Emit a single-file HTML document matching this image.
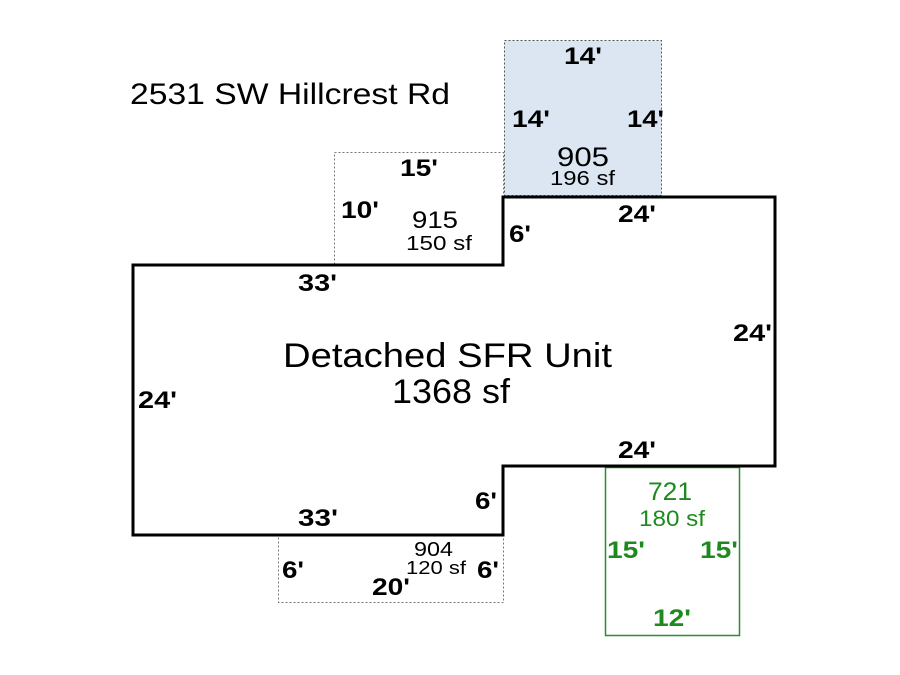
<!DOCTYPE html>
<html><head><style>body{margin:0;background:#fff}svg{display:block}text{font-family:"Liberation Sans",Arial,sans-serif}</style></head>
<body>
<svg width="900" height="675" viewBox="0 0 900 675" xmlns="http://www.w3.org/2000/svg">
<rect x="504.5" y="40.5" width="157" height="155" fill="#dce6f2" stroke="#555" stroke-dasharray="2,2"/>
<rect x="334.5" y="152.5" width="169" height="113" fill="none" stroke="#777" stroke-dasharray="2,2"/>
<rect x="278.5" y="535.5" width="225" height="67" fill="none" stroke="#777" stroke-dasharray="2,2"/>
<rect x="605.5" y="467.5" width="134" height="168" fill="none" stroke="#2e8b2e" stroke-width="1.5"/>
<path d="M133,265 H503 V197 H775 V466 H503 V535 H133 Z" fill="none" stroke="#000" stroke-width="3"/>
<g lengthAdjust="spacingAndGlyphs">
<text x="130" y="104" font-size="30" textLength="320" lengthAdjust="spacingAndGlyphs">2531 SW Hillcrest Rd</text>
<g font-weight="bold" font-size="24">
<text x="564" y="64" textLength="38" lengthAdjust="spacingAndGlyphs">14'</text>
<text x="512" y="127" textLength="38" lengthAdjust="spacingAndGlyphs">14'</text>
<text x="627" y="127" textLength="37" lengthAdjust="spacingAndGlyphs">14'</text>
<text x="400" y="176" textLength="38" lengthAdjust="spacingAndGlyphs">15'</text>
<text x="341" y="218" textLength="38" lengthAdjust="spacingAndGlyphs">10'</text>
<text x="509" y="242" textLength="22" lengthAdjust="spacingAndGlyphs">6'</text>
<text x="618" y="222" textLength="38" lengthAdjust="spacingAndGlyphs">24'</text>
<text x="298" y="291" textLength="39" lengthAdjust="spacingAndGlyphs">33'</text>
<text x="733" y="341" textLength="39" lengthAdjust="spacingAndGlyphs">24'</text>
<text x="138" y="408" textLength="39" lengthAdjust="spacingAndGlyphs">24'</text>
<text x="618" y="458" textLength="38" lengthAdjust="spacingAndGlyphs">24'</text>
<text x="475" y="509" textLength="22" lengthAdjust="spacingAndGlyphs">6'</text>
<text x="298" y="526" textLength="40" lengthAdjust="spacingAndGlyphs">33'</text>
<text x="282" y="578" textLength="22" lengthAdjust="spacingAndGlyphs">6'</text>
<text x="477" y="578" textLength="22" lengthAdjust="spacingAndGlyphs">6'</text>
<text x="372" y="595" textLength="38" lengthAdjust="spacingAndGlyphs">20'</text>
<g fill="#1e8a1e">
<text x="607" y="558" textLength="38" lengthAdjust="spacingAndGlyphs">15'</text>
<text x="700" y="558" textLength="38" lengthAdjust="spacingAndGlyphs">15'</text>
<text x="653" y="626" textLength="38" lengthAdjust="spacingAndGlyphs">12'</text>
</g>
</g>
<text x="557" y="166" font-size="27" textLength="52" lengthAdjust="spacingAndGlyphs">905</text>
<text x="550" y="185" font-size="20" textLength="65" lengthAdjust="spacingAndGlyphs">196 sf</text>
<text x="412" y="228" font-size="24" textLength="46" lengthAdjust="spacingAndGlyphs">915</text>
<text x="406" y="250" font-size="20" textLength="66" lengthAdjust="spacingAndGlyphs">150 sf</text>
<text x="283" y="367" font-size="34" textLength="329" lengthAdjust="spacingAndGlyphs">Detached SFR Unit</text>
<text x="392" y="403" font-size="34" textLength="118" lengthAdjust="spacingAndGlyphs">1368 sf</text>
<text x="414" y="556" font-size="20" textLength="39" lengthAdjust="spacingAndGlyphs">904</text>
<text x="406" y="574" font-size="18" textLength="60" lengthAdjust="spacingAndGlyphs">120 sf</text>
<g fill="#1e8a1e">
<text x="648" y="500" font-size="25" textLength="44" lengthAdjust="spacingAndGlyphs">721</text>
<text x="639" y="526" font-size="22" textLength="66" lengthAdjust="spacingAndGlyphs">180 sf</text>
</g>
</g>
</svg>
</body></html>
